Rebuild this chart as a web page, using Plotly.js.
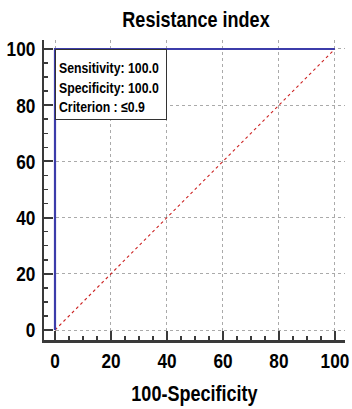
<!DOCTYPE html>
<html><head><meta charset="utf-8">
<script src="https://cdn.plot.ly/plotly-3.0.1.min.js"></script>
<style>body{margin:0;background:#fff}#c{width:352px;height:409px}</style>
</head><body><div id="c"></div>
<script>
const rocX = [0, 0, 100];
const rocY = [0, 100, 100];
const diagX = [0, 100];
const diagY = [0, 100];
const tickVals = [0, 20, 40, 60, 80, 100];
const infoLines = ["Sensitivity: 100.0", "Specificity: 100.0", "Criterion : \u22640.9"];
const FONT = '"Liberation Sans", Arial, sans-serif';
const NARROW = 0.82; // Arial Narrow look: horizontally condensed text

const axisCommon = {
  tickvals: tickVals,
  ticks: 'inside', ticklen: 9, tickwidth: 2, tickcolor: '#3a3a3a',
  minor: {dtick: 5, ticks: 'inside', ticklen: 4, tickwidth: 1.5, tickcolor: '#3a3a3a', showgrid: false},
  showgrid: true, gridcolor: '#aaaaaa', griddash: 'dot', gridwidth: 1,
  showline: true, linecolor: '#3a3a3a', linewidth: 2.5,
  zeroline: false,
  ticklabeloverflow: 'allow',
  tickfont: {family: FONT, size: 21, color: '#000', weight: 'bold'},
  fixedrange: true
};

Plotly.newPlot('c', [
  {x: diagX, y: diagY, mode: 'lines', line: {color: '#cc2222', width: 1.1, dash: 'dot'}, hoverinfo: 'skip'},
  {x: rocX, y: rocY, mode: 'lines', line: {color: '#3c3caa', width: 2.2}, hoverinfo: 'skip'}
], {
  width: 352, height: 409,
  margin: {l: 44, r: 7, t: 40, b: 69},
  paper_bgcolor: '#fff', plot_bgcolor: '#fff',
  showlegend: false,
  title: {text: 'Resistance index', xref: 'paper', x: 0.505, xanchor: 'center', yref: 'container', y: 0.935, yanchor: 'bottom',
          font: {family: FONT, size: 22, color: '#000', weight: 'bold'}},
  xaxis: Object.assign({}, axisCommon, {range: [-3.93, 103.6], ticklabelstandoff: 0,
          title: {text: '100-Specificity', standoff: 15, font: {family: FONT, size: 22, color: '#000', weight: 'bold'}}}),
  yaxis: Object.assign({}, axisCommon, {range: [-3.56, 103.2], ticklabelstandoff: 2}),
  annotations: [{
    xref: 'x', yref: 'y', x: 0, y: 100, xanchor: 'left', yanchor: 'top',
    text: infoLines.join('<br>'), align: 'left', showarrow: false,
    width: 104, height: 63, valign: 'middle',
    font: {family: FONT, size: 15, color: '#000', weight: 'bold'},
    bgcolor: '#fff', bordercolor: '#333', borderwidth: 1, borderpad: 3
  }]
}, {displayModeBar: false, staticPlot: true}).then(function (gd) {
  gd.querySelectorAll('svg text').forEach(function (t) {
    const x = parseFloat(t.getAttribute('x')) || 0;
    const y = parseFloat(t.getAttribute('y')) || 0;
    const isAnn = t.classList.contains('annotation-text');
    if (isAnn) t.removeAttribute('clip-path');
    const prev = t.getAttribute('transform') || '';
    const dy = isAnn ? 3 : 0;
    t.setAttribute('transform', prev + ' translate(' + x + ',' + (y + dy) + ') scale(' + NARROW + ',1) translate(' + (-x) + ',' + (-y) + ')');
  });
  gd.querySelectorAll('.annotation [clip-path]').forEach(function (el) { el.removeAttribute('clip-path'); });
});
</script></body></html>
